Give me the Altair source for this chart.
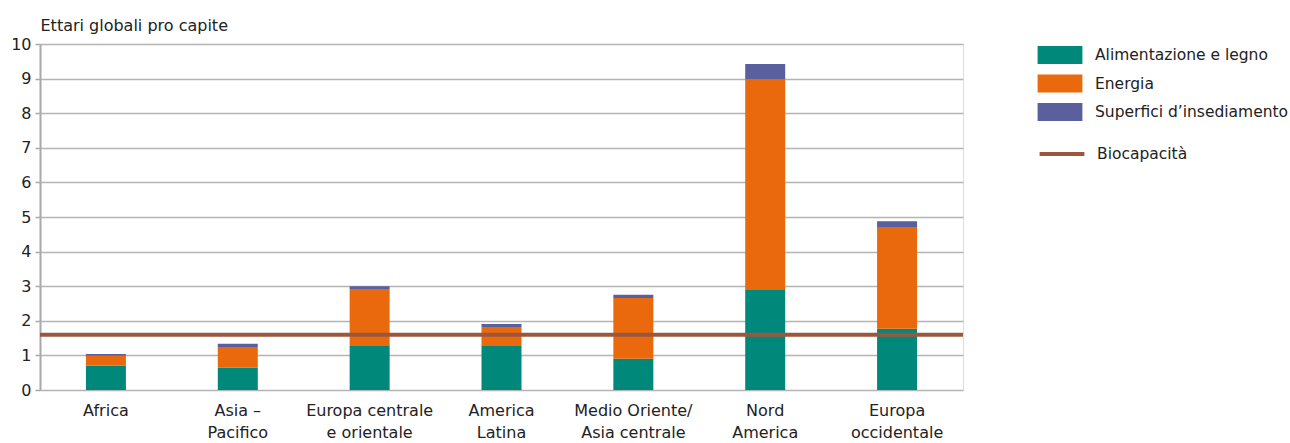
import altair as alt
import pandas as pd

# Ecological footprint per capita by region (global hectares)
regions = [
    "Africa",
    "Asia –\nPacifico",
    "Europa centrale\ne orientale",
    "America\nLatina",
    "Medio Oriente/\nAsia centrale",
    "Nord\nAmerica",
    "Europa\noccidentale",
]
food_wood = [0.71, 0.64, 1.27, 1.27, 0.90, 2.91, 1.77]
energy = [0.28, 0.60, 1.65, 0.55, 1.76, 6.08, 2.92]
settlement = [0.05, 0.10, 0.08, 0.09, 0.09, 0.43, 0.19]
biocapacity = 1.6
y_ticks = list(range(0, 11))

components = ["Alimentazione e legno", "Energia", "Superfici d’insediamento"]
colors = ["#00897b", "#ea690c", "#5a5f9e"]
line_color = "#9b573e"

rows = []
for i, r in enumerate(regions):
    for k, (name, vals) in enumerate(zip(components, [food_wood, energy, settlement])):
        rows.append({"regione": r, "componente": name, "valore": vals[i], "ordine": k})
df = pd.DataFrame(rows)
bio_df = pd.DataFrame({"valore": [biocapacity], "serie": ["Biocapacità"]})

FONT = "DejaVu Sans"
TEXT = "#222222"

y_axis = alt.Axis(
    values=y_ticks,
    labelOverlap=False,
    title="Ettari globali pro capite",
    titleAngle=0,
    titleAlign="left",
    titleBaseline="alphabetic",
    titleX=0,
    titleY=-14,
    titleFontSize=16,
    titleFontWeight="normal",
    titleColor=TEXT,
    labelFontSize=16,
    labelColor=TEXT,
    labelPadding=4,
    tickSize=5,
    tickColor="#a8a8a8",
    tickWidth=1.5,
    domainColor="#a8a8a8",
    domainWidth=2,
    gridColor="#b4b4b4",
    gridWidth=1.6,
)
y_scale = alt.Scale(domain=[0, 10], nice=False)

# legend swatches: 45 x 18 rectangles drawn from a 28 px symbol box
bars = alt.Chart(df).mark_bar(size=40).encode(
    x=alt.X(
        "regione:N",
        sort=regions,
        scale=alt.Scale(paddingInner=0, paddingOuter=0),
        axis=alt.Axis(
            title=None,
            labelAngle=0,
            labelExpr="split(datum.label, '\\n')",
            ticks=False,
            domain=False,
            labelPadding=12,
            labelLineHeight=22,
            labelFontSize=16,
            labelColor=TEXT,
            labelBaseline="top",
        ),
    ),
    y=alt.Y("valore:Q", stack="zero", scale=y_scale, axis=y_axis),
    color=alt.Color(
        "componente:N",
        scale=alt.Scale(domain=components, range=colors),
        legend=alt.Legend(
            title=None,
            orient="none",
            legendX=1006,
            legendY=-3,
            symbolType="M-1.6,-0.64H1.6V0.64H-1.6Z",
            symbolSize=784,
            symbolStrokeWidth=0,
            symbolOpacity=1,
            labelFontSize=15.5,
            labelColor=TEXT,
            labelOffset=21,
            labelLimit=300,
            rowPadding=5.5,
        ),
    ),
    order=alt.Order("ordine:Q"),
)

rule = alt.Chart(bio_df).mark_rule(strokeWidth=4).encode(
    y=alt.Y("valore:Q", scale=y_scale, axis=y_axis),
    stroke=alt.Stroke(
        "serie:N",
        scale=alt.Scale(domain=["Biocapacità"], range=[line_color]),
        legend=alt.Legend(
            title=None,
            orient="none",
            legendX=1006,
            legendY=94,
            symbolType="M-1.6,0H1.6",
            symbolSize=784,
            symbolStrokeWidth=4,
            labelFontSize=15.5,
            labelColor=TEXT,
            labelOffset=19,
        ),
    ),
)

chart = (
    alt.layer(bars, rule)
    .properties(
        width=923,
        height=346,
        padding={"left": 40, "top": 44, "right": 327, "bottom": 53},
        autosize=alt.AutoSizeParams(type="none"),
        background="white",
    )
    .configure_view(fill="#eff0ef", stroke="#a8a8a8", strokeWidth=2)
    .configure(font=FONT)
)

chart.save("out.html", embed_options={"renderer": "svg", "actions": False})
